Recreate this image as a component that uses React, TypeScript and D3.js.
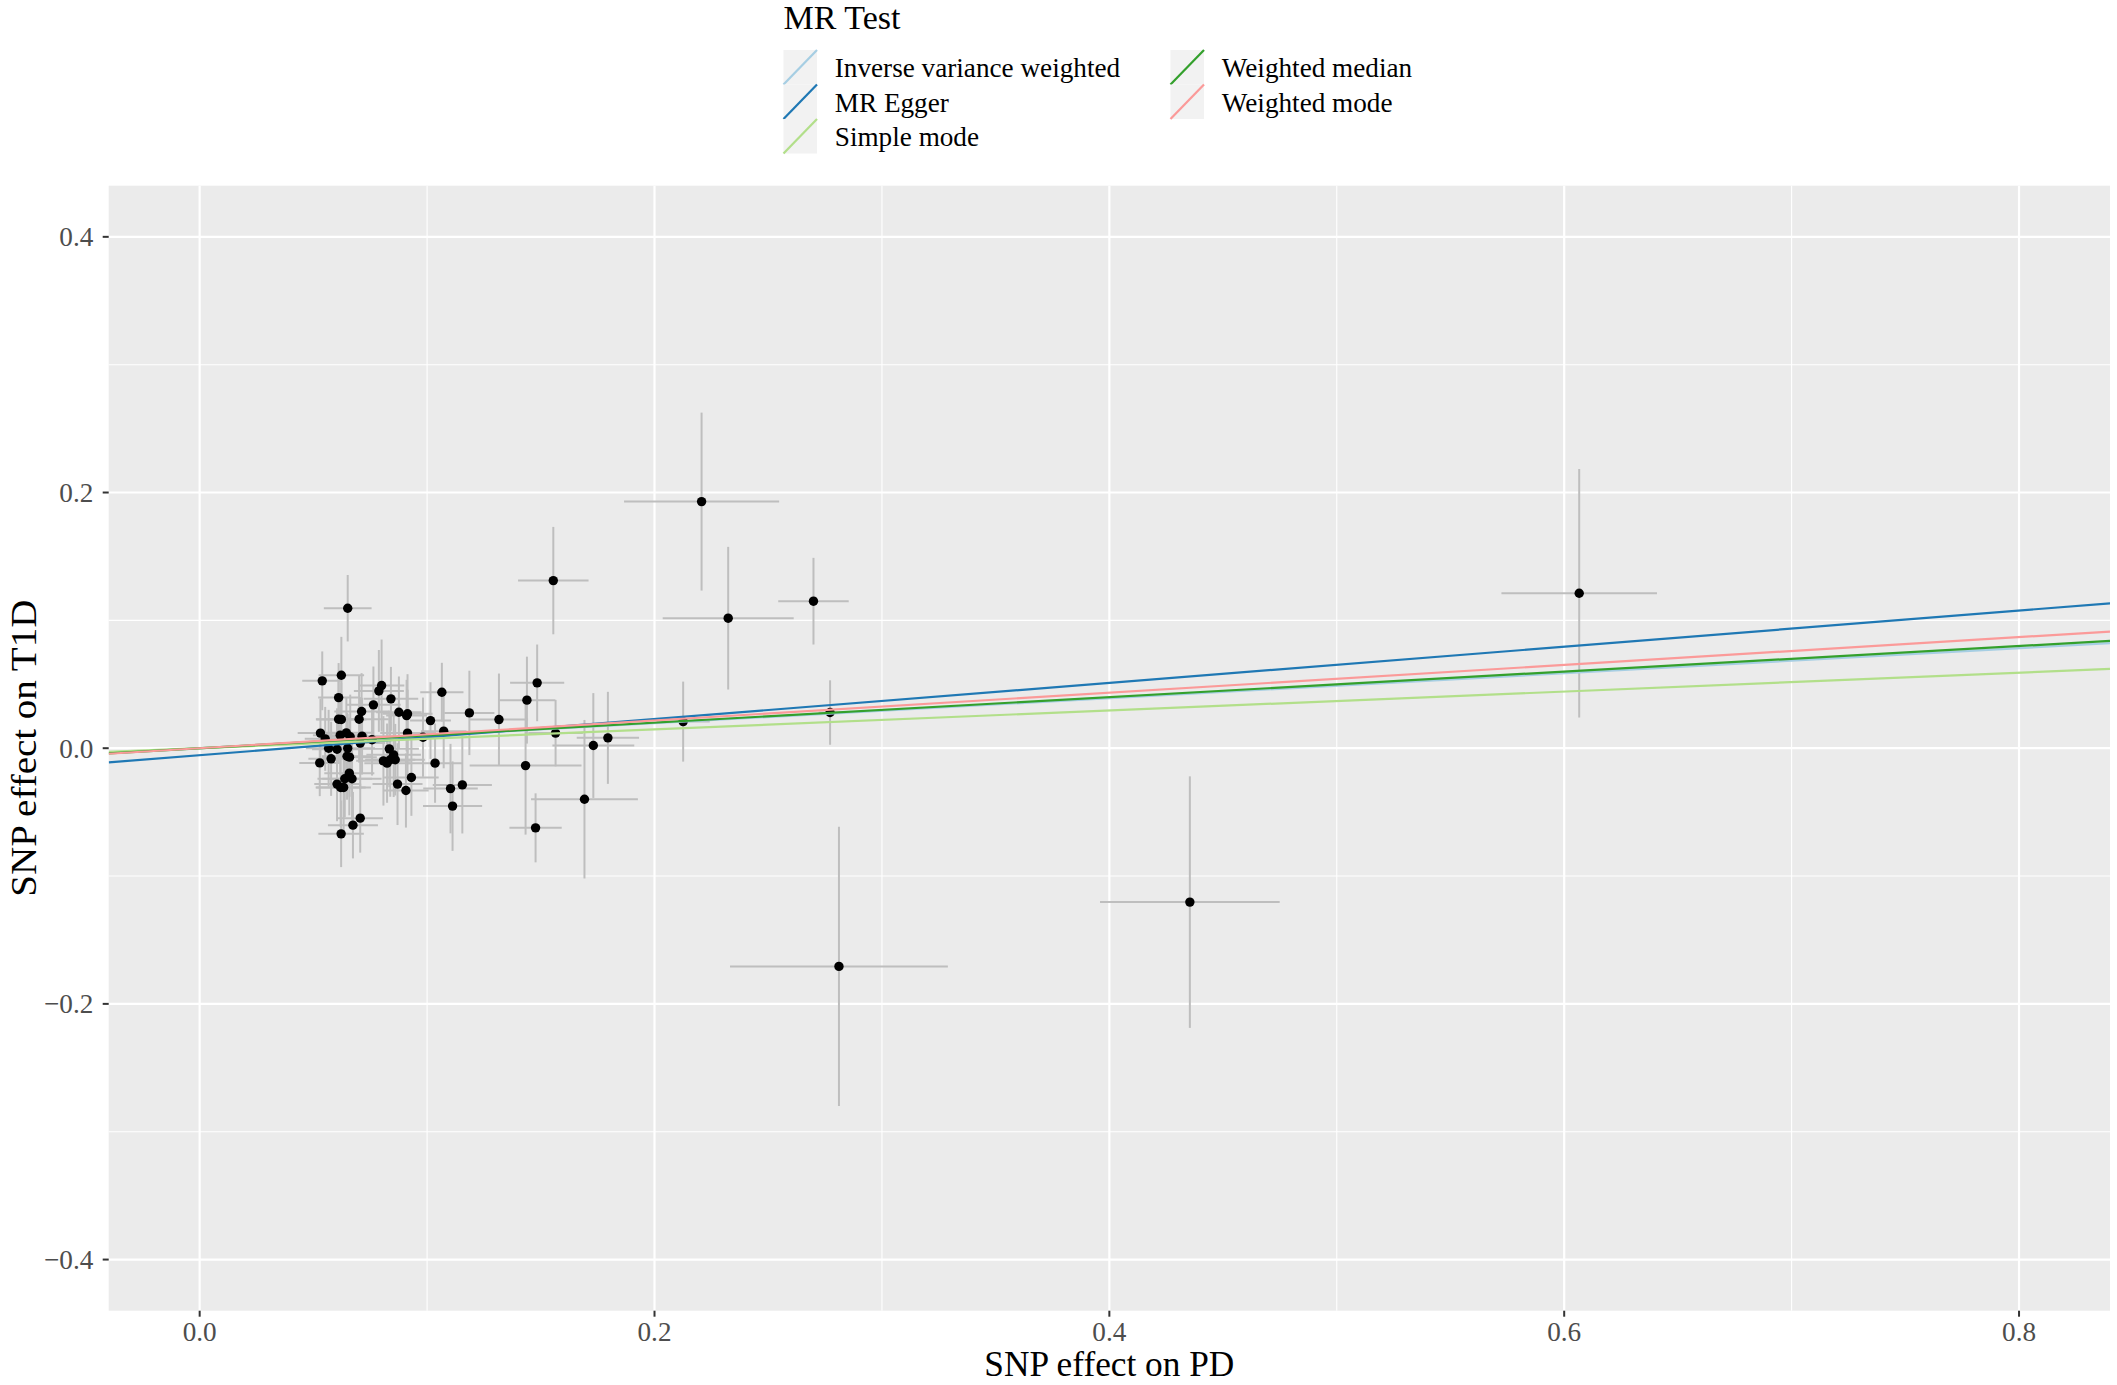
import React from 'react';
import * as d3 from 'd3';

// SNP effects (exposure = PD, outcome = T1D)
const snpBetaX = [
  0.0651, 0.0539, 0.0623, 0.0800, 0.0788, 0.0611, 0.0841, 0.1065, 0.0764, 0.1186,
  0.0876, 0.0914, 0.0910, 0.0712, 0.0701, 0.0611, 0.0623, 0.1015, 0.0531, 0.0552,
  0.0618, 0.0645, 0.0662, 0.0714, 0.0914, 0.1073, 0.0982, 0.0758, 0.0706, 0.0567,
  0.0604, 0.0651, 0.0578, 0.0528, 0.0648, 0.0659, 0.0834, 0.0853, 0.0838, 0.0808,
  0.0824, 0.0860, 0.1035, 0.0658, 0.0638, 0.0670, 0.0604, 0.0620, 0.0633, 0.0870,
  0.0931, 0.0907, 0.1103, 0.1155, 0.1112, 0.0706, 0.0674, 0.0622,
  0.1555, 0.1484, 0.1439, 0.1316, 0.1565, 0.1433, 0.1477, 0.1692, 0.1731, 0.1795,
  0.2207, 0.2324, 0.2699, 0.2126, 0.2772, 0.2811, 0.4354, 0.6066,
];
const snpBetaY = [
  0.1095, 0.0527, 0.0571, 0.0490, 0.0448, 0.0396, 0.0386, 0.0438, 0.0339, 0.0276,
  0.0281, 0.0269, 0.0255, 0.0287, 0.0227, 0.0227, 0.0225, 0.0216, 0.0118, 0.0073,
  0.0102, 0.0120, 0.0089, 0.0094, 0.0118, 0.0133, 0.0086, 0.0066, 0.0040, 0.0000,
  -0.0008, 0.0000, -0.0083, -0.0115, -0.0063, -0.0070, -0.0005, -0.0052, -0.0090, -0.0099,
  -0.0117, -0.0090, -0.0117, -0.0195, -0.0239, -0.0239, -0.0281, -0.0307, -0.0307, -0.0281,
  -0.0229, -0.0331, -0.0316, -0.0287, -0.0453, -0.0547, -0.0602, -0.0670,
  0.1311, 0.0511, 0.0376, 0.0224, 0.0118, -0.0136, -0.0623, -0.0399, 0.0021, 0.0081,
  0.1929, 0.1017, 0.1150, 0.0208, 0.0279, -0.1707, -0.1204, 0.1212,
];
const snpSeX = [
  0.0105, 0.0088, 0.0100, 0.0100, 0.0110, 0.0090, 0.0120, 0.0095, 0.0120, 0.0110,
  0.0100, 0.0110, 0.0090, 0.0120, 0.0130, 0.0100, 0.0110, 0.0090, 0.0100, 0.0090,
  0.0120, 0.0110, 0.0130, 0.0140, 0.0120, 0.0100, 0.0120, 0.0130, 0.0110, 0.0100,
  0.0110, 0.0120, 0.0100, 0.0090, 0.0110, 0.0120, 0.0130, 0.0120, 0.0110, 0.0120,
  0.0100, 0.0130, 0.0120, 0.0110, 0.0120, 0.0130, 0.0100, 0.0110, 0.0120, 0.0110,
  0.0120, 0.0100, 0.0120, 0.0130, 0.0130, 0.0100, 0.0110, 0.0100,
  0.0155, 0.0119, 0.0125, 0.0128, 0.0120, 0.0246, 0.0115, 0.0235, 0.0180, 0.0137,
  0.0341, 0.0288, 0.0155, 0.0117, 0.0050, 0.0479, 0.0395, 0.0342,
];
const snpSeY = [
  0.0260, 0.0230, 0.0300, 0.0360, 0.0320, 0.0270, 0.0250, 0.0230, 0.0300, 0.0330,
  0.0280, 0.0310, 0.0280, 0.0300, 0.0340, 0.0350, 0.0290, 0.0300, 0.0270, 0.0250,
  0.0310, 0.0280, 0.0330, 0.0300, 0.0340, 0.0290, 0.0310, 0.0280, 0.0360, 0.0300,
  0.0320, 0.0270, 0.0290, 0.0260, 0.0340, 0.0310, 0.0300, 0.0330, 0.0290, 0.0350,
  0.0310, 0.0280, 0.0310, 0.0330, 0.0300, 0.0320, 0.0290, 0.0310, 0.0340, 0.0320,
  0.0300, 0.0290, 0.0350, 0.0380, 0.0350, 0.0270, 0.0260, 0.0260,
  0.0420, 0.0300, 0.0340, 0.0360, 0.0260, 0.0540, 0.0270, 0.0620, 0.0410, 0.0360,
  0.0696, 0.0558, 0.0339, 0.0313, 0.0252, 0.1092, 0.0984, 0.0972,
];

// MR methods (legend order) with intercept / slope of fitted lines
const methods = ['Inverse variance weighted', 'MR Egger', 'Simple mode', 'Weighted median', 'Weighted mode'];
const methodColors = ['#A6CEE3', '#1F78B4', '#B2DF8A', '#33A02C', '#FB9A99'];
const intercepts = [0, -0.0055, 0, 0, 0];
const slopes = [0.0978, 0.1415, 0.0738, 0.0999, 0.1086];

const xTicks = [0, 0.2, 0.4, 0.6, 0.8];
const xMinor = [0.1, 0.3, 0.5, 0.7];
const yTicks = [-0.4, -0.2, 0, 0.2, 0.4];
const yMinor = [-0.3, -0.1, 0.1, 0.3];

const W = 2117;
const H = 1385;
const FONT = '"Liberation Serif", "Times New Roman", serif';

export default function App() {
  const left = 108.7, right = 2110, top = 185.7, bottom = 1310.7;
  const x = d3.scaleLinear().domain([-0.04, 0.84]).range([left, right]);
  const y = d3.scaleLinear().domain([-0.44, 0.44]).range([bottom, top]);
  const fmt = d3.format('.1f');

  const pts = snpBetaX.map((bx, i) => ({ bx, by: snpBetaY[i], sx: snpSeX[i], sy: snpSeY[i] }));
  const [x0, x1] = x.domain();

  // legend layout
  const keyW = 33.5, keyH = 34.5;
  const legendCols = [783.5, 1170.5];
  const legendTop = 50;
  const legendItems = methods.map((m, i) => {
    const col = i < 3 ? 0 : 1;
    const row = i < 3 ? i : i - 3;
    return { m, color: methodColors[i], kx: legendCols[col], ky: legendTop + row * keyH };
  });

  return (
    <svg width={W} height={H} style={{ position: 'absolute', left: 0, top: 0, display: 'block', background: '#fff' }}
      fontFamily={FONT}>
      <defs>
        <clipPath id="panel">
          <rect x={left} y={top} width={right - left} height={bottom - top} />
        </clipPath>
      </defs>

      {/* panel */}
      <rect x={left} y={top} width={right - left} height={bottom - top} fill="#EBEBEB" />
      <g stroke="#fff">
        {xMinor.map(t => <line key={'xm' + t} x1={x(t)} x2={x(t)} y1={top} y2={bottom} strokeWidth={1.1} />)}
        {yMinor.map(t => <line key={'ym' + t} y1={y(t)} y2={y(t)} x1={left} x2={right} strokeWidth={1.1} />)}
        {xTicks.map(t => <line key={'xg' + t} x1={x(t)} x2={x(t)} y1={top} y2={bottom} strokeWidth={2.2} />)}
        {yTicks.map(t => <line key={'yg' + t} y1={y(t)} y2={y(t)} x1={left} x2={right} strokeWidth={2.2} />)}
      </g>

      <g clipPath="url(#panel)">
        {/* error bars */}
        <g stroke="#BEBEBE" strokeWidth={2}>
          {pts.map((p, i) => (
            <line key={'ev' + i} x1={x(p.bx)} x2={x(p.bx)} y1={y(p.by - p.sy)} y2={y(p.by + p.sy)} />
          ))}
          {pts.map((p, i) => (
            <line key={'eh' + i} y1={y(p.by)} y2={y(p.by)} x1={x(p.bx - p.sx)} x2={x(p.bx + p.sx)} />
          ))}
        </g>
        <g fill="#000">
          {pts.map((p, i) => <circle key={'p' + i} cx={x(p.bx)} cy={y(p.by)} r={4.7} />)}
        </g>
        {methods.map((m, i) => (
          <line key={m} x1={x(x0)} x2={x(x1)}
            y1={y(intercepts[i] + slopes[i] * x0)} y2={y(intercepts[i] + slopes[i] * x1)}
            stroke={methodColors[i]} strokeWidth={2.2} />
        ))}
      </g>

      {/* axes */}
      <g stroke="#333" strokeWidth={2}>
        {xTicks.map(t => <line key={'xt' + t} x1={x(t)} x2={x(t)} y1={bottom} y2={bottom + 6} />)}
        {yTicks.map(t => <line key={'yt' + t} x1={left - 6} x2={left} y1={y(t)} y2={y(t)} />)}
      </g>
      <g fill="#4D4D4D" fontSize={27.2}>
        {xTicks.map(t => (
          <text key={'xl' + t} x={x(t)} y={1340.7} textAnchor="middle">{fmt(t)}</text>
        ))}
        {yTicks.map(t => (
          <text key={'yl' + t} x={93.3} y={y(t) + 9.5} textAnchor="end">{fmt(t)}</text>
        ))}
      </g>
      <text x={(left + right) / 2} y={1376} textAnchor="middle" fontSize={35}
        textLength={250} lengthAdjust="spacingAndGlyphs">SNP effect on PD</text>
      <text transform={`translate(36, ${(top + bottom) / 2}) rotate(-90)`} textAnchor="middle" fontSize={35}
        textLength={297} lengthAdjust="spacingAndGlyphs">
        SNP effect on T1D
      </text>

      {/* legend */}
      <text x={783.5} y={29.3} fontSize={34}>MR Test</text>
      {legendItems.map(it => (
        <g key={it.m}>
          <rect x={it.kx} y={it.ky} width={keyW} height={keyH} fill="#F2F2F2" />
          <line x1={it.kx} y1={it.ky + keyH} x2={it.kx + keyW} y2={it.ky} stroke={it.color} strokeWidth={2.2} />
          <text x={it.kx + 51.3} y={it.ky + keyH / 2 + 9.8} fontSize={27.2}>{it.m}</text>
        </g>
      ))}
    </svg>
  );
}
